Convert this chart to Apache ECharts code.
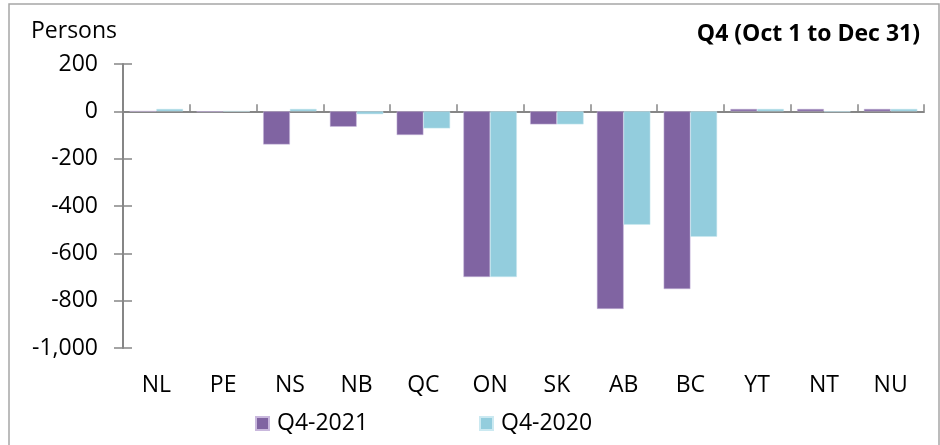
<!DOCTYPE html>
<html>
<head>
<meta charset="utf-8">
<script src="https://cdn.jsdelivr.net/npm/echarts@6/dist/echarts.min.js"></script>
<style>html,body{margin:0;padding:0;background:#fff}#c{width:940px;height:445px}</style>
</head>
<body>
<div id="c"></div>
<script>
const categories = ['NL','PE','NS','NB','QC','ON','SK','AB','BC','YT','NT','NU'];
const q4_2021 = [0, -3, -140, -65, -100, -700, -55, -835, -751, 10, 10, 10];
const q4_2020 = [10, 0, 10, -12, -72, -700, -55, -479, -530, 10, -3, 10];
const seriesNames = ['Q4-2021', 'Q4-2020'];
const yTicks = { min: -1000, max: 200, interval: 200 };

const FONT = '"Open Sans", sans-serif';
const FS = 23;
const AX = '#868686';
const chart = echarts.init(document.getElementById('c'), null, {renderer: 'canvas'});
const legendCommon = {
  bottom: 10, padding: 0, itemWidth: 13, itemHeight: 13, icon: 'rect',
  textStyle: {fontFamily: FONT, fontSize: FS, color: '#000', padding: [0, 0, 0, 3]}
};
chart.setOption({
  animation: false,
  backgroundColor: '#fff',
  graphic: [
    {type: 'rect', shape: {x: 9, y: 4, width: 930, height: 460}, style: {fill: 'none', stroke: '#a6a6a6', lineWidth: 1.5}, z: -1},
    {type: 'text', x: 31, y: 31, style: {text: 'Persons', font: FS + 'px ' + FONT, fill: '#000', verticalAlign: 'middle'}},
    {type: 'text', x: 920, y: 34, style: {text: 'Q4 (Oct 1 to Dec 31)', font: 'bold ' + FS + 'px ' + FONT, fill: '#000', align: 'right', verticalAlign: 'middle'}}
  ],
  legend: [
    Object.assign({left: 255, data: [seriesNames[0]]}, legendCommon),
    Object.assign({left: 479, data: [seriesNames[1]]}, legendCommon)
  ],
  grid: {left: 123, right: 16, top: 64, bottom: 97},
  xAxis: [
    {type: 'category', data: categories, position: 'bottom',
     axisLine: {onZero: true, lineStyle: {color: AX, width: 2}},
     axisTick: {show: true, inside: true, length: 7, lineStyle: {color: AX, width: 1.5}},
     axisLabel: {show: false}},
    {type: 'category', data: categories, position: 'bottom',
     axisLine: {show: false, onZero: false}, axisTick: {show: false},
     axisLabel: {fontFamily: FONT, fontSize: FS, color: '#000', margin: 26}}
  ],
  yAxis: [
    {type: 'value', min: yTicks.min, max: yTicks.max, interval: yTicks.interval,
     axisLine: {show: true, lineStyle: {color: AX, width: 2}},
     axisTick: {show: true, length: 9, lineStyle: {color: AX, width: 1.5}},
     splitLine: {show: false},
     axisLabel: {fontFamily: FONT, fontSize: FS, color: '#000', margin: 25,
       formatter: v => v.toLocaleString('en-US')}},
    {type: 'value', min: yTicks.min, max: yTicks.max, interval: yTicks.interval, position: 'left',
     axisLine: {show: false}, axisLabel: {show: false}, splitLine: {show: false},
     axisTick: {show: true, inside: true, length: 9, lineStyle: {color: AX, width: 1.5}}}
  ],
  series: [
    {name: seriesNames[0], type: 'bar', data: q4_2021, barGap: '0%', barCategoryGap: '20%',
     itemStyle: {color: '#8064A2', borderColor: '#c9b8dd', borderWidth: 0.5}},
    {name: seriesNames[1], type: 'bar', data: q4_2020, barGap: '0%', barCategoryGap: '20%',
     itemStyle: {color: '#93CDDD', borderColor: '#cbe9f1', borderWidth: 0.5}}
  ]
});
</script>
</body>
</html>
